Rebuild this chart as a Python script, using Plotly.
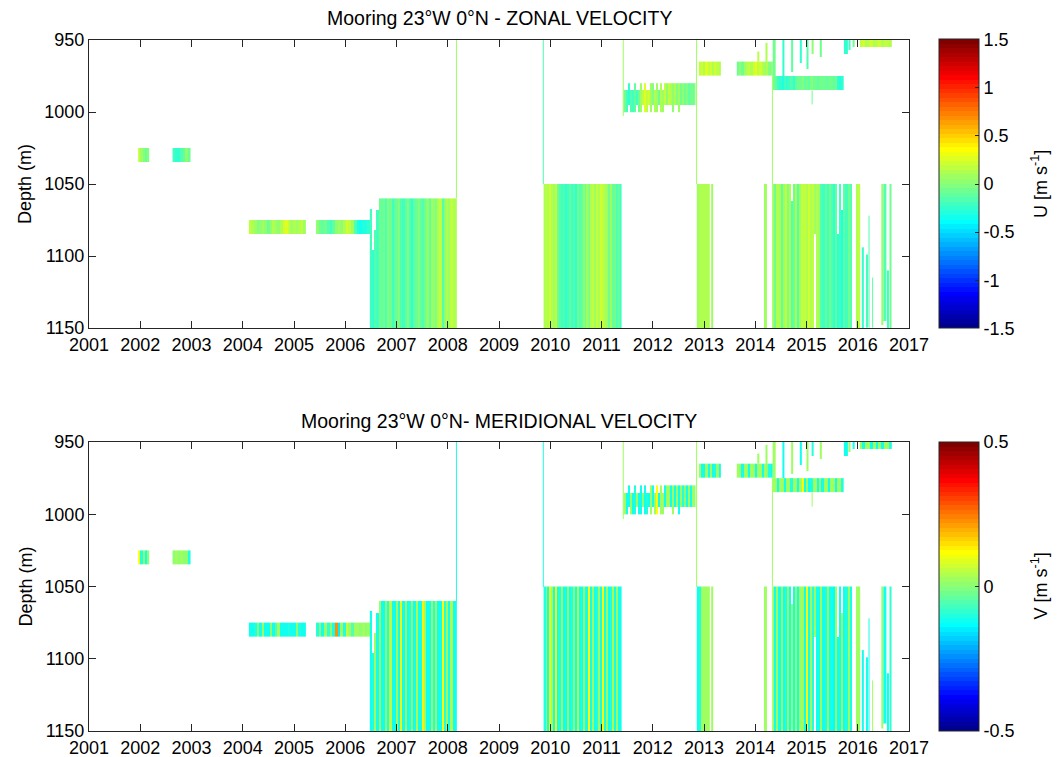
import numpy as np
import plotly.graph_objects as go

# ---------------------------------------------------------------------------
# Axis ticks and colour ranges
# ---------------------------------------------------------------------------
years = list(range(2001, 2018))
depth_ticks = [950, 1000, 1050, 1100, 1150]
u_ticks = [-1.5, -1, -0.5, 0, 0.5, 1, 1.5]
u_tick_text = ["-1.5", "-1", "-0.5", "0", "0.5", "1", "1.5"]
v_ticks = [-0.5, 0, 0.5]
v_tick_text = ["-0.5", "0", "0.5"]

# ---------------------------------------------------------------------------
# Current-meter records at 23°W 0°N
# time span in decimal years, depth span in m, then U and V (m/s) per time step
# ---------------------------------------------------------------------------
t_2002a = (2001.96, 2002.18)
z_2002a = (1025, 1035)
u_2002a = [0.15, 0.05, -0.02, -0.05, -0.04]
v_2002a = [0.12, -0.10, 0.02, -0.11, 0.01]

t_2002b = (2002.63, 2002.98)
z_2002b = (1025, 1035)
u_2002b = [-0.22, -0.28, -0.25, -0.18, -0.10, 0.02, -0.06]
v_2002b = [0.01, 0.02, 0.00, 0.02, 0.01, 0.00, -0.10]

t_2004 = (2004.12, 2005.23)
z_2004 = (1075, 1085)
u_2004 = [0.15, 0.10, 0.05, -0.02, 0.00, 0.08, 0.03, -0.05, 0.02, 0.10, 0.05,
          0.00, 0.12, 0.20, 0.25, 0.15, 0.08, 0.12, 0.05, 0.10, 0.15, 0.08]
v_2004 = [-0.11, -0.12, -0.10, 0.01, -0.11, 0.02, -0.12, -0.11, 0.00, -0.12, -0.05,
          0.02, -0.12, -0.11, -0.12, -0.10, -0.12, -0.12, 0.01, -0.10, -0.12, -0.11]

t_2005 = (2005.43, 2006.48)
z_2005 = (1075, 1085)
u_2005 = [0.00, -0.08, -0.12, -0.05, -0.15, -0.20, -0.10, 0.00, 0.05, 0.00,
          0.12, 0.20, 0.15, 0.05, -0.15, -0.30, -0.35, -0.30, -0.32, -0.28]
v_2005 = [-0.10, 0.01, -0.12, 0.02, -0.08, 0.00, -0.12, 0.22, -0.15, 0.03,
          -0.10, 0.05, 0.02, -0.05, 0.02, 0.02, 0.01, 0.02, 0.01, 0.02]

t_2006 = (2006.48, 2008.17)
top_2006 = [1067, 1096, 1082, 1068, 1060, 1060, 1060, 1060, 1060, 1060,
            1060, 1060, 1060, 1060, 1060, 1060, 1060, 1060, 1060, 1060,
            1060, 1060, 1060, 1060, 1060, 1060, 1060, 1060, 1060, 1060,
            1060, 1060, 1060, 1060, 1060, 1060, 1060, 1060, 1060, 1060]
bot_2006 = 1150
u_2006 = [-0.22, -0.28, -0.18, -0.20, -0.08, -0.12, -0.05, -0.18, -0.02, -0.08,
          -0.20, -0.12, -0.06, -0.02, -0.15, -0.22, -0.10, -0.04, -0.16, -0.24,
          -0.12, -0.06, -0.01, -0.10, -0.18, -0.07, 0.02, -0.12, 0.08, 0.03,
          -0.04, 0.12, 0.15, -0.16, 0.04, 0.14, 0.08, 0.16, 0.10, 0.13]
v_2006 = [-0.12, -0.10, 0.02, -0.12, 0.03, -0.11, -0.12, 0.01, -0.10, 0.05,
          -0.12, -0.11, 0.02, -0.12, 0.10, -0.11, 0.03, -0.12, -0.10, 0.01,
          -0.12, 0.04, -0.11, -0.12, 0.13, 0.02, -0.11, -0.12, 0.03, -0.10,
          0.02, -0.12, -0.11, 0.12, -0.10, 0.02, -0.12, 0.04, -0.11, -0.12]

t_2009 = (2009.87, 2011.39)
z_2009 = (1050, 1150)
u_2009 = [0.10, 0.18, 0.14, 0.20, 0.12, 0.05, 0.15, -0.05, -0.15, -0.22,
          -0.18, -0.25, -0.20, -0.10, -0.22, -0.15, -0.25, -0.05, -0.18, -0.10,
          0.00, -0.08, 0.05, -0.02, 0.10, 0.15, 0.08, 0.18, 0.12, 0.20,
          0.15, 0.10, 0.05, -0.05, 0.08, -0.12, -0.05, -0.18, -0.10, -0.20]
v_2009 = [-0.10, 0.03, -0.12, 0.10, 0.02, -0.11, 0.12, -0.12, -0.10, 0.02,
          -0.12, -0.11, 0.03, -0.12, -0.10, 0.01, -0.12, 0.05, -0.11, -0.12,
          0.02, -0.10, -0.12, 0.11, -0.11, 0.02, -0.12, -0.10, 0.03, -0.12,
          0.12, -0.11, 0.02, -0.12, -0.10, 0.04, -0.12, 0.02, -0.11, -0.12]

t_2011 = (2011.43, 2012.84)
top_2011 = [985, 985, 980, 985, 985, 980, 985, 985, 980, 985, 980, 985,
            985, 980, 980, 985, 980, 985, 980, 985, 980, 980, 980, 980,
            980, 980, 980, 980, 980, 980, 980, 980, 980, 980, 980, 980]
bot_2011 = [1000, 1000, 995, 1000, 1000, 1000, 995, 1000, 1000, 995, 1000, 1000,
            995, 1000, 995, 1000, 1000, 995, 1000, 1000, 995, 995, 995, 995,
            1000, 995, 995, 1000, 995, 995, 995, 995, 995, 995, 995, 995]
u_2011 = [-0.05, -0.22, -0.25, -0.18, -0.22, -0.10, -0.20, -0.05, 0.05, 0.18,
          0.25, 0.15, 0.22, 0.05, -0.02, 0.10, 0.05, -0.08, 0.12, 0.05,
          0.15, 0.02, 0.18, 0.10, 0.00, 0.12, -0.02, 0.05, -0.05, 0.00,
          -0.08, -0.02, -0.10, -0.05, -0.08, -0.02]
v_2011 = [0.02, -0.12, -0.11, 0.02, -0.12, -0.10, 0.03, -0.12, -0.11, 0.01,
          -0.12, -0.10, -0.12, 0.02, -0.11, 0.02, 0.12, -0.12, 0.03, 0.02,
          -0.11, 0.03, 0.02, -0.12, 0.02, -0.11, 0.03, -0.12, 0.02, -0.10,
          0.01, -0.12, 0.02, -0.11, 0.02, 0.01]

t_2012 = (2012.86, 2013.12)
z_2012 = (1050, 1150)
u_2012 = [0.08, 0.12, 0.10, 0.14, 0.10, 0.12]
v_2012 = [-0.12, -0.10, 0.02, 0.03, 0.02, 0.03]

t_2013a = (2012.90, 2013.33)
z_2013a = (965, 975)
u_2013a = [0.18, 0.22, 0.12, 0.25, 0.15, 0.20, 0.10, 0.22, 0.16, 0.12]
v_2013a = [0.02, -0.12, -0.11, 0.02, -0.12, 0.03, -0.12, -0.10, 0.02, -0.11]

t_2013b = (2013.64, 2014.34)
z_2013b = (965, 975)
u_2013b = [-0.05, 0.00, -0.08, 0.05, 0.12, 0.15, 0.10, 0.20,
           0.28, 0.18, 0.22, 0.12, 0.05, 0.10, -0.02, 0.00]
v_2013b = [0.02, 0.03, -0.11, 0.02, 0.02, -0.12, 0.03, 0.02,
           -0.11, 0.02, 0.03, -0.12, 0.02, 0.01, -0.10, -0.12]

t_2014a = (2014.34, 2015.73)
z_2014a = (975, 985)
u_2014a = [-0.05, -0.10, -0.20, -0.25, -0.30, -0.22, -0.28, -0.20, -0.15, -0.25, -0.12,
           -0.05, -0.08, -0.02, -0.10, -0.05, -0.12, -0.03, -0.08, -0.05, -0.10, -0.05,
           -0.08, -0.06, -0.10, -0.05, -0.08, -0.12, -0.05, -0.25, -0.32, -0.28]
v_2014a = [0.02, 0.03, -0.11, 0.02, 0.02, -0.12, 0.03, 0.02, -0.10, 0.02, 0.03,
           -0.12, 0.02, 0.12, -0.11, 0.02, -0.12, -0.10, 0.03, 0.02, -0.11, 0.02,
           -0.12, 0.02, 0.03, -0.11, 0.02, 0.02, -0.12, 0.03, 0.02, -0.10]

t_2014b = (2014.33, 2016.04)
top_2014b = [1050, 1050, 1050, 1050, 1050, 1050, 1050, 1050, 1050, 1062,
             1050, 1050, 1050, 1050, 1050, 1050, 1050, 1050, 1050, 1050,
             1050, 1050, 1050, 1050, 1050, 1050, 1050, 1050, 1050, 1050,
             1050, 1085, 1050, 1068, 1050, 1050, 1050, 1050, 1050, 1050,
             1050, 1050]
bot_2014b = [1150, 1150, 1150, 1150, 1150, 1150, 1150, 1150, 1150, 1150,
             1150, 1150, 1150, 1150, 1150, 1150, 1150, 1150, 1150, 1150,
             1085, 1150, 1150, 1150, 1150, 1150, 1150, 1150, 1150, 1150,
             1150, 1150, 1150, 1150, 1150, 1150, 1150, 1150, 1150, 1150,
             1150, 1150]
u_2014b = [0.05, -0.05, 0.10, 0.12, -0.10, 0.08, 0.15, -0.02, 0.10, -0.15,
           -0.05, 0.12, -0.18, 0.05, 0.15, 0.18, 0.10, 0.20, 0.12, 0.16,
           0.08, 0.14, 0.05, -0.15, -0.20, -0.10, -0.22, -0.05, -0.18, -0.25,
           -0.12, -0.28, -0.20, -0.30, -0.10, -0.22, -0.05, -0.15, None, None,
           0.12, 0.15]
v_2014b = [0.02, -0.12, 0.03, -0.11, 0.02, -0.12, -0.10, 0.02, -0.12, 0.03,
           -0.11, 0.02, -0.12, 0.02, 0.03, -0.11, 0.12, -0.12, 0.02, -0.10,
           0.03, -0.12, -0.11, 0.02, -0.12, -0.10, 0.02, -0.12, -0.11, -0.13,
           0.02, -0.12, -0.11, 0.02, -0.12, -0.10, 0.03, -0.12, None, None,
           0.02, 0.03]

t_2016 = (2016.04, 2016.66)
z_2016 = (950, 955)
u_2016 = [0.15, 0.20, 0.12, 0.18, 0.22, 0.10, 0.16, 0.20, 0.12, 0.18, 0.15, 0.10]
v_2016 = [0.02, -0.11, 0.02, 0.03, -0.12, 0.02, -0.11, 0.02, -0.12, 0.03, 0.02, -0.10]

# Short single profiles: start, end, top depth, bottom depth, U, V
prof_start = [2008.160, 2009.855, 2011.415, 2012.845, 2014.325, 2013.140, 2014.170,
              2014.340, 2014.530, 2014.700, 2014.870, 2015.000, 2015.100, 2015.260,
              2015.100, 2015.730, 2015.820, 2015.900, 2014.040, 2014.200,
              2016.080, 2016.160, 2016.210, 2016.280, 2016.460, 2016.500, 2016.570, 2016.620]
prof_end = [2008.175, 2009.870, 2011.430, 2012.860, 2014.340, 2013.170, 2014.230,
            2014.400, 2014.570, 2014.730, 2014.910, 2015.040, 2015.140, 2015.290,
            2015.120, 2015.800, 2015.850, 2015.930, 2014.070, 2014.230,
            2016.120, 2016.200, 2016.230, 2016.300, 2016.500, 2016.560, 2016.600, 2016.660]
prof_top = [950, 950, 950, 950, 975, 1050, 1050,
            950, 950, 950, 950, 950, 950, 950,
            985, 950, 950, 950, 958, 952,
            1094, 1099, 1072, 1115, 1050, 1050, 1110, 1050]
prof_bot = [1060, 1050, 1003, 1050, 1050, 1150, 1150,
            975, 975, 972, 966, 970, 960, 962,
            995, 960, 957, 955, 965, 965,
            1150, 1150, 1150, 1150, 1148, 1145, 1150, 1150]
prof_u = [0.05, -0.15, 0.05, 0.05, 0.05, 0.05, 0.08,
          -0.05, -0.28, -0.10, -0.25, -0.15, 0.00, -0.05,
          -0.05, -0.28, -0.20, -0.05, 0.15, 0.10,
          -0.25, -0.20, -0.15, -0.10, 0.05, -0.15, -0.20, -0.05]
prof_v = [-0.10, -0.10, 0.02, 0.02, 0.02, 0.02, 0.02,
          0.02, -0.12, 0.02, -0.11, 0.02, -0.10, 0.02,
          0.02, -0.12, 0.02, -0.11, 0.02, 0.02,
          -0.12, -0.12, -0.11, 0.02, 0.02, -0.12, -0.12, -0.08]

records = [
    (t_2002a, z_2002a[0], z_2002a[1], u_2002a, v_2002a),
    (t_2002b, z_2002b[0], z_2002b[1], u_2002b, v_2002b),
    (t_2004, z_2004[0], z_2004[1], u_2004, v_2004),
    (t_2005, z_2005[0], z_2005[1], u_2005, v_2005),
    (t_2006, top_2006, bot_2006, u_2006, v_2006),
    (t_2009, z_2009[0], z_2009[1], u_2009, v_2009),
    (t_2011, top_2011, bot_2011, u_2011, v_2011),
    (t_2012, z_2012[0], z_2012[1], u_2012, v_2012),
    (t_2013a, z_2013a[0], z_2013a[1], u_2013a, v_2013a),
    (t_2013b, z_2013b[0], z_2013b[1], u_2013b, v_2013b),
    (t_2014a, z_2014a[0], z_2014a[1], u_2014a, v_2014a),
    (t_2014b, top_2014b, bot_2014b, u_2014b, v_2014b),
    (t_2016, z_2016[0], z_2016[1], u_2016, v_2016),
]
for i in range(len(prof_start)):
    records.append(((prof_start[i], prof_end[i]), prof_top[i], prof_bot[i],
                    [prof_u[i]], [prof_v[i]]))


# ---------------------------------------------------------------------------
# MATLAB-style jet colormap with 64 discrete levels
# ---------------------------------------------------------------------------
def jet(m=64):
    n = int(np.ceil(m / 4))
    u = np.concatenate([np.arange(1, n + 1) / n, np.ones(n - 1), np.arange(n, 0, -1) / n])
    g = int(np.ceil(n / 2)) - (1 if m % 4 == 1 else 0) + np.arange(1, len(u) + 1)
    r = g + n
    b = g - n
    J = np.zeros((m, 3))
    J[r[r <= m] - 1, 0] = u[r <= m]
    J[g[g <= m] - 1, 1] = u[g <= m]
    J[b[b >= 1] - 1, 2] = u[b >= 1]
    return J


levels = jet(64)
jet_scale = []
for i, c in enumerate(levels):
    col = "rgb(%d,%d,%d)" % tuple(int(round(255 * v)) for v in c)
    jet_scale.append([i / 64, col])
    jet_scale.append([(i + 1) / 64, col])

# ---------------------------------------------------------------------------
# Figure: fixed pixel layout (plot boxes 89..909 px wide, panels 40..328 and 442..731 px)
# ---------------------------------------------------------------------------
W, H = 1057, 757
ML, MR, MT, MB = 89, W - 909, 40, H - 731
PW, PH = W - ML - MR, H - MT - MB
FONT = "Arial, Liberation Sans, Helvetica, sans-serif"
fig = go.Figure()


def px_x(px):
    return (px - ML) / PW


def px_y(py):
    return (H - MB - py) / PH


def add_record(span, tops, bots, vals, xa, ya, cax):
    n = len(vals)
    tops = tops if isinstance(tops, list) else [tops] * n
    bots = bots if isinstance(bots, list) else [bots] * n
    x_edges = np.linspace(span[0], span[1], n + 1).tolist()
    if len(set(tops)) == 1 and len(set(bots)) == 1:
        y_edges = [tops[0], bots[0]]
        z = [list(vals)]
    else:
        y_edges = list(range(min(tops), max(bots) + 1))
        z = []
        for d in y_edges[:-1]:
            z.append([v if (v is not None and tops[i] <= d < bots[i]) else None
                      for i, v in enumerate(vals)])
    fig.add_trace(go.Heatmap(x=x_edges, y=y_edges, z=z, coloraxis=cax,
                             xaxis=xa, yaxis=ya, hoverongaps=False))


for span, tops, bots, u, v in records:
    add_record(span, tops, bots, u, "x", "y", "coloraxis")
    add_record(span, tops, bots, v, "x2", "y2", "coloraxis2")

y1_dom = [px_y(328), 1.0]
y2_dom = [0.0, px_y(442)]

axis_style = dict(showline=True, linecolor="#262626", linewidth=1, mirror="ticks",
                  ticks="inside", ticklen=7, tickcolor="#262626", showgrid=False,
                  zeroline=False, automargin=False,
                  tickfont=dict(size=18, color="black", family=FONT))


def cbar(center_px, vals, texts):
    return dict(x=px_x(939), xanchor="left", y=px_y(center_px), yanchor="middle",
                lenmode="pixels", len=289, thicknessmode="pixels", thickness=40,
                xpad=0, ypad=0, outlinecolor="#262626", outlinewidth=1,
                tickvals=vals, ticktext=texts, ticks="inside",
                ticklen=4, tickcolor="#262626",
                tickfont=dict(size=18, family=FONT, color="black"))


fig.update_layout(
    width=W, height=H, autosize=False,
    margin=dict(l=ML, r=MR, t=MT, b=MB, autoexpand=False),
    paper_bgcolor="white", plot_bgcolor="white",
    font=dict(family=FONT, size=18, color="black"),
    showlegend=False,
    xaxis=dict(domain=[0, 1], range=[2001, 2017], tickvals=years,
               ticktext=[str(y) for y in years], anchor="y", **axis_style),
    yaxis=dict(domain=y1_dom, range=[1150, 950], tickvals=depth_ticks, anchor="x",
               **axis_style),
    xaxis2=dict(domain=[0, 1], range=[2001, 2017], tickvals=years,
                ticktext=[str(y) for y in years], anchor="y2", **axis_style),
    yaxis2=dict(domain=y2_dom, range=[1150, 950], tickvals=depth_ticks, anchor="x2",
                **axis_style),
    coloraxis=dict(colorscale=jet_scale, cmin=-1.5, cmax=1.5,
                   colorbar=cbar(184, u_ticks, u_tick_text)),
    coloraxis2=dict(colorscale=jet_scale, cmin=-0.5, cmax=0.5,
                    colorbar=cbar(586.5, v_ticks, v_tick_text)),
)

notes = [
    ("Mooring 23°W 0°N - ZONAL VELOCITY", 499, 18, 0, 19.5),
    ("Mooring 23°W 0°N- MERIDIONAL VELOCITY", 499, 421, 0, 19.5),
    ("Depth (m)", 25, 184, -90, 18),
    ("Depth (m)", 25, 586.5, -90, 18),
    ("U [m s<sup>-1</sup>]", 1040, 184, -90, 18),
    ("V [m s<sup>-1</sup>]", 1040, 586.5, -90, 18),
]
for text, px, py, ang, fs in notes:
    fig.add_annotation(text=text, x=px_x(px), y=px_y(py), xref="paper", yref="paper",
                       xanchor="center", yanchor="middle", showarrow=False,
                       textangle=ang, font=dict(size=fs, family=FONT, color="black"))

fig.write_html("out.html")
